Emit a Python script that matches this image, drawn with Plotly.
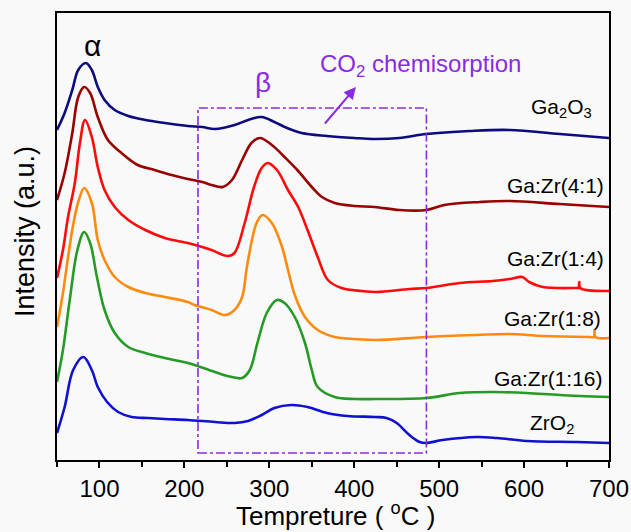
import plotly.graph_objects as go

# Temperature (°C) and intensity (a.u., stacked offsets)
t_ga2o3 = [50, 59, 68, 75, 84, 91, 98, 106, 118, 134, 154, 177, 204, 221, 236, 259, 275, 291, 306, 321, 338, 368, 400, 423, 453, 485, 536, 583, 642, 700]
y_ga2o3 = [330, 347, 370, 390, 397, 390, 373, 360, 350, 344, 340, 337, 334, 333, 331, 335, 340, 343, 338, 332, 327, 324, 322, 321, 322, 326, 329, 330, 326, 322]

t_41 = [50, 59, 68, 75, 82, 89, 98, 110, 126, 145, 165, 185, 204, 221, 232, 245, 256, 268, 279, 289, 303, 318, 333, 350, 362, 377, 400, 424, 453, 485, 506, 548, 583, 642, 700]
y_41 = [260, 287, 327, 363, 373, 367, 343, 320, 307, 295, 290, 285, 281, 278, 275, 273, 280, 300, 317, 322, 315, 303, 290, 273, 263, 257, 254, 253, 250, 250, 255, 258, 259, 256, 253]

t_14 = [50, 57, 63, 71, 77, 83, 91, 98, 106, 118, 134, 154, 177, 204, 221, 232, 251, 259, 271, 282, 291, 298, 309, 322, 334, 345, 357, 369, 385, 409, 426, 465, 485, 524, 563, 583, 598, 606, 622, 662, 664, 665, 666, 700]
y_14 = [182, 210, 243, 277, 317, 340, 323, 293, 270, 253, 240, 230, 222, 217, 213, 210, 204, 207, 237, 273, 292, 297, 290, 270, 253, 230, 203, 180, 172, 169, 168, 171, 172, 177, 179, 181, 183, 178, 173, 172, 172, 178, 172, 169]

t_18 = [50, 57, 63, 69, 75, 82, 91, 98, 106, 118, 134, 154, 177, 204, 212, 232, 248, 259, 268, 274, 285, 292, 303, 315, 322, 330, 342, 357, 377, 401, 426, 485, 544, 583, 622, 677, 682, 683, 684, 700]
y_18 = [133, 167, 203, 235, 258, 272, 257, 220, 200, 183, 173, 167, 163, 158, 155, 150, 145, 150, 163, 195, 237, 245, 237, 213, 190, 165, 143, 130, 123, 121, 120, 123, 125, 126, 124, 123, 123, 130, 123, 122]

t_116 = [50, 57, 65, 74, 82, 89, 97, 106, 118, 134, 154, 177, 204, 212, 236, 256, 268, 277, 286, 297, 309, 318, 330, 342, 350, 357, 377, 401, 424, 485, 524, 563, 603, 642, 700]
y_116 = [78, 110, 160, 210, 228, 217, 183, 150, 127, 113, 107, 102, 97, 95, 88, 83, 82, 90, 117, 147, 160, 157, 143, 117, 90, 73, 63, 61, 61, 62, 67, 68, 67, 65, 63]

t_zro2 = [50, 59, 69, 81, 91, 98, 109, 122, 138, 157, 177, 204, 236, 259, 275, 291, 306, 326, 345, 368, 392, 424, 438, 450, 465, 477, 485, 504, 544, 568, 603, 662, 700]
y_zro2 = [27, 53, 90, 103, 90, 73, 58, 48, 43, 42, 41, 40, 38, 37, 39, 45, 52, 55, 53, 47, 44, 43, 42, 37, 25, 18, 17, 20, 23, 22, 19, 18, 17]

series = [
    ("Ga2O3", t_ga2o3, y_ga2o3, "#0c0c80"),
    ("Ga:Zr(4:1)", t_41, y_41, "#990000"),
    ("Ga:Zr(1:4)", t_14, y_14, "#ff0a0a"),
    ("Ga:Zr(1:8)", t_18, y_18, "#ff8a10"),
    ("Ga:Zr(1:16)", t_116, y_116, "#259a25"),
    ("ZrO2", t_zro2, y_zro2, "#1010d0"),
]

x_ticks = [100, 200, 300, 400, 500, 600, 700]
purple = "#8a2be2"

fig = go.Figure()
for name, t, y, c in series:
    fig.add_trace(go.Scatter(x=t, y=y, mode="lines", name=name,
                             line=dict(color=c, width=2.6, shape="spline", smoothing=1.0),
                             showlegend=False))

font = "Liberation Sans, Arial, sans-serif"
fig.update_layout(
    width=631, height=532, autosize=False,
    margin=dict(l=57, r=22, t=13, b=72),
    paper_bgcolor="#f9f9f9", plot_bgcolor="#f9f9f9",
    font=dict(family=font, color="black"),
    xaxis=dict(range=[50, 700], tickvals=x_ticks, ticks="outside", ticklen=6, tickwidth=2,
               tickcolor="black", showline=True, linecolor="black", linewidth=2, mirror=True,
               showgrid=False, zeroline=False, tickfont=dict(size=24), automargin=False,
               minor=dict(dtick=50, tick0=50, ticks="outside", ticklen=5, tickwidth=2, tickcolor="black")),
    yaxis=dict(range=[0, 447], showticklabels=False, ticks="", showline=True, linecolor="black",
               linewidth=2, mirror=True, showgrid=False, zeroline=False, automargin=False),
)

# dash-dot box around beta region
fig.add_shape(type="rect", xref="x", yref="y", x0=216, x1=485, y0=7, y1=352,
              line=dict(color=purple, width=1.6, dash="dashdot"))

ann = [
    dict(x=92, y=415, text="α", font=dict(size=30, color="black")),
    dict(x=292, y=378, text="β", font=dict(size=28, color=purple)),
    dict(x=478, y=395, text="CO<sub>2</sub> chemisorption", font=dict(size=24, color=purple)),
    dict(x=644, y=352, text="Ga<sub>2</sub>O<sub>3</sub>", font=dict(size=21)),
    dict(x=696, y=275, text="Ga:Zr(4:1)", font=dict(size=21), xanchor="right"),
    dict(x=696, y=202, text="Ga:Zr(1:4)", font=dict(size=21), xanchor="right"),
    dict(x=693, y=142, text="Ga:Zr(1:8)", font=dict(size=21), xanchor="right"),
    dict(x=695, y=82, text="Ga:Zr(1:16)", font=dict(size=21), xanchor="right"),
    dict(x=633, y=36, text="ZrO<sub>2</sub>", font=dict(size=21)),
]
for a in ann:
    a.setdefault("xanchor", "center")
    fig.add_annotation(xref="x", yref="y", showarrow=False, yanchor="middle", **a)

# arrow
fig.add_annotation(xref="x", yref="y", axref="x", ayref="y", x=402, y=373, ax=364, ay=335,
                   text="", showarrow=True, arrowhead=2, arrowsize=1.2, arrowwidth=2, arrowcolor=purple)

# axis titles
fig.add_annotation(xref="paper", yref="paper", x=(335 - 57) / 552, y=(460 - 514) / 447,
                   text="Tempreture ( <sup>o</sup>C )", showarrow=False, font=dict(size=26),
                   xanchor="center", yanchor="middle")
fig.add_annotation(xref="paper", yref="paper", x=(25 - 57) / 552, y=(460 - 232) / 447,
                   text="Intensity (a.u.)", showarrow=False, font=dict(size=27), textangle=-90,
                   xanchor="center", yanchor="middle")

fig.write_html("out.html")
